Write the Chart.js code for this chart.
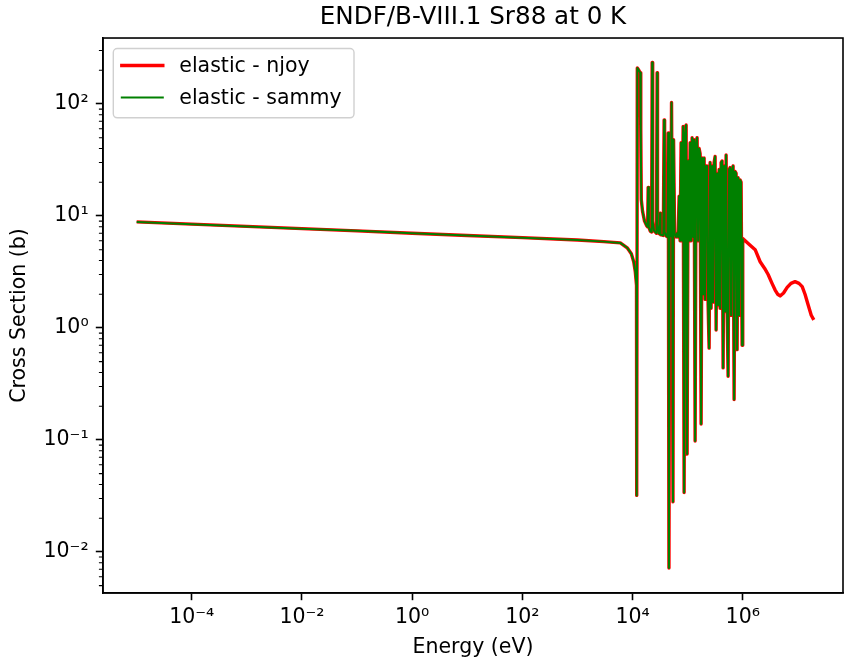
<!DOCTYPE html>
<html>
<head>
<meta charset="utf-8">
<title>ENDF/B-VIII.1 Sr88 at 0 K</title>
<script src="https://cdn.jsdelivr.net/npm/chart.js@4.4.1/dist/chart.umd.min.js"></script>
<style>
  html, body { margin: 0; padding: 0; background: #fff; }
  #wrap { width: 844px; height: 663px; }
</style>
</head>
<body>
<div id="wrap"><canvas id="xs" width="844" height="663"></canvas></div>
<script>
/* ======================================================
   Sr88 elastic cross section, njoy vs sammy (log-log)
====================================================== */

// ---- data (energy in eV, cross section in barns) ----

// smooth region below the first resonance
const lowEnergy = [1e-5, 1e-4, 1e-3, 1e-2, 1e-1, 1, 10, 100, 1e3, 3e3, 6e3, 8e3, 9.5e3, 1.05e4, 1.12e4, 1.18e4];
const lowXs     = [8.85, 8.45, 8.07, 7.7, 7.36, 7.0, 6.7, 6.4, 6.1, 5.9, 5.75, 5.2, 4.6, 3.9, 3.2, 2.4];

// resolved resonance region, 12 keV .. 1 MeV
const resEnergy = [
  1.19e4, 1.22e4, 1.30e4, 1.38e4, 1.41e4, 1.44e4, 1.52e4, 1.65e4, 1.80e4, 1.88e4,
  1.92e4, 1.97e4, 2.10e4, 2.22e4, 2.27e4, 2.32e4, 2.45e4, 2.72e4, 2.79e4, 2.84e4,
  3.00e4, 3.13e4, 3.17e4, 3.22e4, 3.62e4, 3.74e4, 3.82e4, 4.10e4, 4.30e4, 4.45e4,
  4.58e4, 4.70e4, 4.95e4, 5.10e4, 5.25e4, 5.42e4, 5.55e4, 5.80e4,
  // dense part above ~60 keV
  6.18e4, 6.44e4, 6.72e4, 7.00e4, 7.30e4, 7.61e4, 7.94e4, 8.28e4, 8.63e4, 9.00e4,
  9.38e4, 9.78e4, 1.020e5, 1.063e5, 1.109e5, 1.156e5, 1.205e5, 1.257e5, 1.310e5, 1.366e5,
  1.425e5, 1.485e5, 1.549e5, 1.615e5, 1.684e5, 1.755e5, 1.830e5, 1.908e5, 1.990e5, 2.075e5,
  2.163e5, 2.255e5, 2.352e5, 2.452e5, 2.556e5, 2.665e5, 2.779e5, 2.898e5, 3.021e5, 3.150e5,
  3.285e5, 3.425e5, 3.571e5, 3.723e5, 3.882e5, 4.048e5, 4.220e5, 4.400e5, 4.588e5, 4.784e5,
  4.988e5, 5.201e5, 5.423e5, 5.654e5, 5.895e5, 6.147e5, 6.409e5, 6.682e5, 6.967e5, 7.264e5,
  7.574e5, 7.897e5, 8.234e5, 8.585e5, 8.951e5, 9.333e5, 9.731e5,
  1.0e6
];
const resXs = [
  0.032, 210, 200, 190, 60, 14, 11, 9.0, 8.2, 8.0,
  18, 8.0, 7.3, 7.2, 235, 9.0, 7.4, 7.0, 190, 8.5,
  7.0, 6.9, 10.6, 6.8, 6.7, 72, 7.2, 6.6, 6.5, 55,
  0.0072, 6.8, 6.6, 103, 7.0, 0.028, 48, 7.0,
  6.5, 7.0, 6.5, 15, 6.0, 45, 6.0, 63, 0.034, 55,
  65, 0.075, 31, 6.0, 45, 6.0, 50, 6.5, 48, 0.098,
  45, 50, 6.0, 40, 36, 0.139, 33, 2.0, 33, 1.8,
  28, 28, 1.6, 0.66, 30, 1.5, 28, 1.7, 30, 34,
  0.96, 24, 1.6, 26, 1.5, 30, 31, 0.44, 28, 1.4,
  35, 1.5, 0.37, 26, 27, 1.3, 26, 28, 0.23, 25,
  24, 0.64, 22, 1.3, 21, 20, 0.7,
  6.3
];

// njoy only: smooth tail above 1 MeV
const tailEnergy = [1.3e6, 1.68e6, 2.07e6, 2.5e6, 2.89e6, 3.4e6, 3.87e6, 4.3e6, 4.77e6, 5.5e6,
                    6.4e6, 7.5e6, 8.9e6, 1.05e7, 1.2e7, 1.35e7, 1.54e7, 1.75e7, 1.95e7];
const tailXs     = [5.6, 5.0, 3.9, 3.4, 3.0, 2.5, 2.18, 2.0, 1.93, 2.05,
                    2.3, 2.5, 2.59, 2.5, 2.34, 2.0, 1.6, 1.3, 1.18];

// ticks
const xTickValues = [1e-4, 1e-2, 1, 1e2, 1e4, 1e6];
const xTickLabels = ['10⁻⁴', '10⁻²', '10⁰', '10²', '10⁴', '10⁶'];
const yTickValues = [1e-2, 1e-1, 1, 10, 100];
const yTickLabels = ['10⁻²', '10⁻¹', '10⁰', '10¹', '10²'];

// ---- styling ----
const FONT = 'DejaVu Sans';
const FS = 20.5;
const AXIS_LW = 1.6;
const MAJOR_LEN = 7.2;
const MINOR_LEN = 4.1;
const RED = '#ff0000';
const GREEN = '#008000';

Chart.defaults.font.family = FONT;
Chart.defaults.color = '#000';

const toPoints = (xs, ys) => xs.map((x, i) => ({ x, y: ys[i] }));

const njoyPoints  = toPoints([...lowEnergy, ...resEnergy, ...tailEnergy], [...lowXs, ...resXs, ...tailXs]);
const sammyPoints = toPoints([...lowEnergy, ...resEnergy], [...lowXs, ...resXs]);

// frame on all four sides + minor ticks on the y axis
const frameAndMinor = {
  id: 'frameAndMinor',
  afterDatasetsDraw(chart) {
    const { ctx, chartArea: a, scales: { y } } = chart;
    ctx.save();
    ctx.strokeStyle = '#000';
    ctx.lineWidth = AXIS_LW;
    ctx.strokeRect(a.left, a.top, a.right - a.left, a.bottom - a.top);

    ctx.lineWidth = 1.1;
    ctx.beginPath();
    for (let p = -3; p <= 2; p++) {
      for (let k = 2; k <= 9; k++) {
        const v = k * Math.pow(10, p);
        if (v < y.min || v > y.max) continue;
        const py = y.getPixelForValue(v);
        ctx.moveTo(a.left, py);
        ctx.lineTo(a.left - MINOR_LEN, py);
      }
    }
    ctx.stroke();
    ctx.restore();
  }
};

// matplotlib style legend box in the upper left corner
const boxLegend = {
  id: 'boxLegend',
  afterDraw(chart) {
    const { ctx, chartArea: a } = chart;
    const x0 = a.left + 10.3, y0 = a.top + 10.5, w = 240.7, h = 69.3, r = 4;
    ctx.save();
    ctx.beginPath();
    ctx.roundRect(x0, y0, w, h, r);
    ctx.fillStyle = 'rgba(255,255,255,0.8)';
    ctx.fill();
    ctx.strokeStyle = '#d0d0d0';
    ctx.lineWidth = 1.4;
    ctx.stroke();

    ctx.font = `${FS}px "${FONT}"`;
    ctx.textBaseline = 'middle';
    ctx.lineCap = 'square';
    chart.data.datasets.forEach((ds, i) => {
      const ly = y0 + 17 + i * 32;
      ctx.beginPath();
      ctx.strokeStyle = ds.borderColor;
      ctx.lineWidth = ds.borderWidth;
      ctx.moveTo(x0 + 8.5, ly);
      ctx.lineTo(x0 + 49.5, ly);
      ctx.stroke();
      ctx.fillStyle = '#000';
      ctx.fillText(ds.label, x0 + 66, ly + 1);
    });
    ctx.restore();
  }
};

new Chart(document.getElementById('xs'), {
  type: 'line',
  data: {
    datasets: [
      {
        label: 'elastic - njoy',
        data: njoyPoints,
        borderColor: RED,
        borderWidth: 3.4,
        order: 1
      },
      {
        label: 'elastic - sammy',
        data: sammyPoints,
        borderColor: GREEN,
        borderWidth: 2.0,
        order: 0
      }
    ]
  },
  options: {
    responsive: false,
    animation: false,
    events: [],
    layout: { padding: { left: 0, right: 1, top: 0, bottom: 0 } },
    elements: {
      point: { radius: 0 },
      line: { tension: 0, borderJoinStyle: 'round', borderCapStyle: 'butt', fill: false }
    },
    plugins: {
      legend: { display: false },
      tooltip: { enabled: false },
      title: {
        display: true,
        text: 'ENDF/B-VIII.1 Sr88 at 0 K',
        fullSize: false,
        font: { size: 24.6, weight: 'normal', lineHeight: 1.2 },
        color: '#000',
        padding: { top: 3.2, bottom: 5.3 }
      }
    },
    scales: {
      x: {
        type: 'logarithmic',
        min: 2.45e-6,
        max: 6.6e7,
        afterBuildTicks: s => { s.ticks = xTickValues.map(v => ({ value: v })); },
        afterFit: s => { s.height = 70; },
        ticks: {
          callback: (v, i) => xTickLabels[i],
          autoSkip: false,
          maxRotation: 0,
          font: { size: FS },
          color: '#000',
          padding: 5
        },
        grid: { drawOnChartArea: false, drawTicks: true, tickLength: MAJOR_LEN, tickWidth: AXIS_LW, tickColor: '#000' },
        border: { display: true, color: '#000', width: AXIS_LW },
        title: { display: true, text: 'Energy (eV)', font: { size: FS }, color: '#000', padding: { top: 0, bottom: 2.7 } }
      },
      y: {
        type: 'logarithmic',
        min: 4.3e-3,
        max: 388,
        afterBuildTicks: s => { s.ticks = yTickValues.map(v => ({ value: v })); },
        afterFit: s => { s.width = 103; },
        ticks: {
          callback: (v, i) => yTickLabels[i],
          autoSkip: false,
          font: { size: FS },
          color: '#000',
          padding: 7.2
        },
        grid: { drawOnChartArea: false, drawTicks: true, tickLength: MAJOR_LEN, tickWidth: AXIS_LW, tickColor: '#000' },
        border: { display: true, color: '#000', width: AXIS_LW },
        title: { display: true, text: 'Cross Section (b)', font: { size: FS }, color: '#000', padding: { top: 7.7, bottom: 0 } }
      }
    }
  },
  plugins: [frameAndMinor, boxLegend]
});
</script>
</body>
</html>
